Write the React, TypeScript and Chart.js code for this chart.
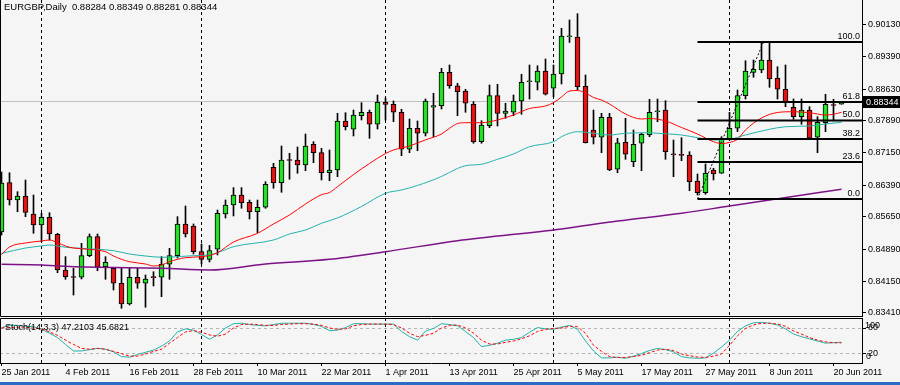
import React, { useEffect, useRef } from "react";
import { Chart, registerables } from "chart.js";

Chart.register(...registerables);

const FONT = "'Liberation Sans', Arial, sans-serif";

// ---------- data ----------
const dateLabels = [
  "25 Jan 2011", "4 Feb 2011", "16 Feb 2011", "28 Feb 2011", "10 Mar 2011", "22 Mar 2011", "1 Apr 2011",
  "13 Apr 2011", "25 Apr 2011", "5 May 2011", "17 May 2011", "27 May 2011", "8 Jun 2011", "20 Jun 2011",
];
const labelIdx = [0, 8, 16, 24, 32, 40, 48, 56, 64, 72, 80, 88, 96, 104];
const separatorIdx = [5, 25, 48, 69, 91];
const priceTicks = [0.8341, 0.8415, 0.8489, 0.8565, 0.8639, 0.8715, 0.8789, 0.8863, 0.8939, 0.9013];

const opens = [
  0.85299, 0.86450, 0.86046, 0.86140, 0.85720, 0.85463, 0.85643, 0.85246, 0.84413, 0.84250,
  0.84243, 0.84747, 0.85190, 0.84490, 0.84452, 0.84103, 0.83620, 0.84243, 0.84103, 0.84250,
  0.84243, 0.84546, 0.84747, 0.85487, 0.85440, 0.84840, 0.84662, 0.84896, 0.85720, 0.85929,
  0.86163, 0.85993, 0.85773, 0.85876, 0.86809, 0.86450, 0.86980, 0.86980, 0.86863, 0.87346,
  0.87150, 0.86683, 0.86746, 0.87890, 0.87696, 0.88013, 0.88093, 0.87813, 0.88326, 0.88280,
  0.88093, 0.87230, 0.87720, 0.87603, 0.88210, 0.88247, 0.89026, 0.88713, 0.88590, 0.88280,
  0.87406, 0.87780, 0.88480, 0.88069, 0.88093, 0.88356, 0.88806, 0.88793, 0.89056, 0.88653,
  0.88986, 0.89856, 0.89850, 0.88700, 0.87680, 0.87510, 0.87976, 0.86763, 0.87393, 0.86940,
  0.87370, 0.87563, 0.88106, 0.88146, 0.87113, 0.87096, 0.87096, 0.86490, 0.86216, 0.86746,
  0.86670, 0.87446, 0.87720, 0.88480, 0.89026, 0.89080, 0.89313, 0.88886, 0.88630, 0.88210,
  0.87990, 0.88146, 0.87510, 0.87850, 0.88263, 0.88284,
];
const highs = [
  0.86699, 0.86683, 0.86240, 0.86513, 0.86163, 0.85736, 0.85750, 0.85269, 0.84724, 0.84452,
  0.85036, 0.85253, 0.85253, 0.84724, 0.84476, 0.84452, 0.84452, 0.84452, 0.84296, 0.84373,
  0.84724, 0.84919, 0.85657, 0.85906, 0.85487, 0.85020, 0.84985, 0.85813, 0.86046, 0.86334,
  0.86334, 0.86046, 0.86046, 0.86473, 0.86902, 0.87306, 0.87136, 0.87283, 0.87586, 0.87406,
  0.87253, 0.87213, 0.88069, 0.88083, 0.88146, 0.88317, 0.88146, 0.88496, 0.88426, 0.88356,
  0.88163, 0.87936, 0.87890, 0.88403, 0.88536, 0.89119, 0.89196, 0.88770, 0.88630, 0.88340,
  0.87896, 0.88730, 0.88746, 0.88303, 0.88496, 0.88980, 0.89196, 0.89180, 0.89336, 0.89196,
  0.90053, 0.90247, 0.90393, 0.88963, 0.88146, 0.88069, 0.88069, 0.87486, 0.87953, 0.87680,
  0.87603, 0.88396, 0.88403, 0.88363, 0.87446, 0.87500, 0.87173, 0.86653, 0.86886, 0.86786,
  0.87523, 0.88093, 0.88613, 0.89296, 0.89313, 0.89703, 0.89716, 0.89156, 0.89196, 0.88403,
  0.88403, 0.88223, 0.87990, 0.88513, 0.88396, 0.88349,
];
const lows = [
  0.85229, 0.85929, 0.85773, 0.85657, 0.85269, 0.85073, 0.85113, 0.84350, 0.84196, 0.83829,
  0.84203, 0.84724, 0.84397, 0.84196, 0.83946, 0.83519, 0.83596, 0.83986, 0.83543, 0.84040,
  0.83790, 0.84196, 0.84693, 0.85183, 0.84786, 0.84553, 0.84600, 0.84763, 0.85626, 0.85673,
  0.85853, 0.85603, 0.85283, 0.85853, 0.86320, 0.86226, 0.86530, 0.86670, 0.86730, 0.86917,
  0.86513, 0.86496, 0.86590, 0.87680, 0.87540, 0.87913, 0.87486, 0.87703, 0.87913, 0.87873,
  0.87080, 0.87150, 0.87196, 0.87540, 0.87523, 0.88170, 0.88653, 0.88013, 0.88093, 0.87370,
  0.87370, 0.87733, 0.87773, 0.87953, 0.88013, 0.88046, 0.88403, 0.88613, 0.88496, 0.88456,
  0.88753, 0.89722, 0.88613, 0.87376, 0.87353, 0.87150, 0.86730, 0.86683, 0.86996, 0.86824,
  0.86730, 0.87523, 0.87873, 0.86996, 0.86590, 0.86963, 0.86263, 0.86163, 0.86180, 0.86513,
  0.86665, 0.87446, 0.87640, 0.88403, 0.88910, 0.89016, 0.88676, 0.88403, 0.88223, 0.87930,
  0.87813, 0.87463, 0.87150, 0.87640, 0.87890, 0.88281,
];
const closes = [
  0.86443, 0.86046, 0.86140, 0.85759, 0.85463, 0.85643, 0.85253, 0.84413, 0.84257, 0.84238,
  0.84747, 0.85190, 0.84476, 0.84592, 0.84103, 0.83620, 0.84243, 0.84103, 0.84203, 0.84234,
  0.84546, 0.84747, 0.85487, 0.85253, 0.84840, 0.84662, 0.84868, 0.85736, 0.85929, 0.86163,
  0.85983, 0.85773, 0.85876, 0.86413, 0.86450, 0.86980, 0.86968, 0.86863, 0.87306, 0.87150,
  0.86683, 0.86746, 0.87890, 0.87759, 0.88030, 0.88093, 0.87813, 0.88326, 0.88275, 0.88093,
  0.87230, 0.87720, 0.87603, 0.88356, 0.88247, 0.89026, 0.88713, 0.88573, 0.88303, 0.87406,
  0.87796, 0.88480, 0.88069, 0.88123, 0.88356, 0.88793, 0.88818, 0.89056, 0.88513, 0.88986,
  0.89873, 0.89868, 0.88690, 0.87383, 0.87510, 0.87976, 0.86746, 0.87383, 0.87113, 0.87346,
  0.87580, 0.88093, 0.88118, 0.87173, 0.87101, 0.87087, 0.86473, 0.86216, 0.86670, 0.86653,
  0.87463, 0.87720, 0.88480, 0.89056, 0.89096, 0.89313, 0.88870, 0.88630, 0.88340, 0.87990,
  0.88146, 0.87486, 0.87860, 0.88280, 0.88251, 0.88344,
];

const maRedIdx = [0, 1, 3, 5, 6, 7, 8, 9, 11, 13, 14, 15, 16, 18, 19, 20, 21, 22, 23, 25, 26, 27, 29, 32, 34, 36, 38, 40, 41, 42, 44, 46, 48, 49, 51, 53, 55, 56, 57, 58, 60, 62, 64, 66, 68, 69, 70, 71, 72, 73, 74, 75, 76, 78, 80, 81, 83, 85, 87, 89, 90, 91, 92, 93, 95, 97, 99, 101, 103, 104, 105];
const maRedVal = [
  0.84775, 0.84950, 0.85043, 0.85090, 0.85113, 0.85050, 0.84973, 0.84926, 0.84896, 0.84840,
  0.84740, 0.84662, 0.84606, 0.84553, 0.84506, 0.84530, 0.84606, 0.84662, 0.84700, 0.84723,
  0.84751, 0.84816, 0.85066, 0.85269, 0.85487, 0.85696, 0.85953, 0.86170, 0.86221, 0.86357,
  0.86640, 0.86898, 0.87130, 0.87213, 0.87306, 0.87450, 0.87586, 0.87720, 0.87831, 0.87850,
  0.87850, 0.87913, 0.88030, 0.88181, 0.88240, 0.88317, 0.88450, 0.88590, 0.88601, 0.88543,
  0.88438, 0.88380, 0.88286, 0.88053, 0.87936, 0.87948, 0.87890, 0.87738, 0.87586, 0.87406,
  0.87364, 0.87388, 0.87463, 0.87680, 0.87960, 0.88088, 0.88106, 0.88083, 0.88030, 0.88046,
  0.88093,
];
const maTealIdx = [0, 3, 5, 6, 7, 8, 10, 12, 14, 16, 18, 20, 22, 24, 26, 27, 29, 34, 36, 38, 40, 42, 45, 48, 50, 52, 55, 57, 58, 60, 62, 64, 66, 69, 70, 71, 72, 74, 76, 78, 81, 82, 85, 87, 89, 91, 93, 96, 98, 101, 103, 105];
const maTealVal = [
  0.84800, 0.84926, 0.84973, 0.84996, 0.84973, 0.84943, 0.84919, 0.84896, 0.84863, 0.84786,
  0.84740, 0.84710, 0.84723, 0.84747, 0.84763, 0.84816, 0.84956, 0.85113, 0.85253, 0.85346,
  0.85503, 0.85627, 0.85895, 0.86203, 0.86280, 0.86385, 0.86595, 0.86782, 0.86847, 0.86880,
  0.86996, 0.87120, 0.87290, 0.87406, 0.87523, 0.87603, 0.87640, 0.87603, 0.87563, 0.87603,
  0.87616, 0.87603, 0.87563, 0.87500, 0.87446, 0.87463, 0.87563, 0.87696, 0.87756, 0.87773,
  0.87820, 0.87860,
];
const maPurpleIdx = [0, 5, 7, 12, 20, 26, 33, 41, 48, 57, 70, 77, 85, 91, 96, 105];
const maPurpleVal = [
  0.84546, 0.84530, 0.84506, 0.84476, 0.84452, 0.84413, 0.84553, 0.84663, 0.84840, 0.85096,
  0.85370, 0.85556, 0.85736, 0.85906, 0.86046, 0.86296,
];

const stochK = [
  80, 87, 86, 84, 83, 77, 68, 58, 42, 27,
  27, 30, 33, 31, 25, 14, 12.5, 19, 24, 29,
  38, 50, 71, 78, 75, 65, 54, 64, 80, 90,
  91, 88, 86, 85, 88, 91, 91, 91, 91, 88,
  84, 74, 75, 81, 90, 90, 89, 89, 89, 89,
  72, 60, 52, 73, 79, 90, 88, 85, 72, 58,
  37, 40, 45, 52, 54, 58, 70, 81, 78, 77,
  82, 86, 77, 50, 27, 11, 11, 12.5, 10, 15,
  21, 28, 33, 30, 25, 14, 11, 10, 11, 22,
  36, 52, 72, 85, 92, 93, 91, 87, 78, 66,
  60, 55, 50, 45, 46, 47.2103,
];
const stochD = [
  80, 81, 82, 82, 80, 78, 71, 63, 52, 42,
  33, 31, 33, 31, 26, 21, 15, 15, 20, 26,
  31, 45, 58, 71, 74, 70, 64, 61, 66, 80,
  88, 89, 88, 86, 86, 88, 89, 90, 90, 89,
  86, 80, 77, 78, 85, 88, 89, 89, 89, 88,
  80, 68, 60, 63, 68, 80, 86, 87, 80, 68,
  52, 43, 43, 47, 50, 55, 62, 72, 77, 79,
  80, 84, 83, 68, 40, 26, 14, 12, 12, 14,
  17, 23, 29, 31, 28, 20, 16, 13, 12, 15,
  20, 40, 62, 79, 87, 91, 91, 89, 84, 73,
  66, 58, 52, 48, 46, 45.6821,
];

const fibLevels = [0, 23.6, 38.2, 50, 61.8, 100];
const fibLabels = ["0.0", "23.6", "38.2", "50.0", "61.8", "100.0"];
const fibFromIdx = 87;
const fibFromPrice = 0.8607;
const fibToIdx = 95.25;
const fibToPrice = 0.89733;

const titleText = "EURGBP,Daily  0.88284 0.88349 0.88281 0.88344";
const stochTitle = "Stoch(14,3,3) 47.2103 45.6821";
const lastPrice = 0.88344;

// ---------- layout constants ----------
const X_MIN = -0.1875;
const X_MAX = 107.5625;
const Y_MIN = 0.83316;
const Y_MAX = 0.90713;
const GREEN = "#22e022";
const RED = "#e01414";

const fibPrice = (l: number) => fibFromPrice + ((fibToPrice - fibFromPrice) * l) / 100;

const separatorsPlugin = {
  id: "separators",
  beforeDatasetsDraw(chart: any) {
    const { ctx, chartArea, scales } = chart;
    ctx.save();
    ctx.strokeStyle = "#000";
    ctx.lineWidth = 1;
    ctx.setLineDash([3, 3]);
    separatorIdx.forEach((i) => {
      const x = Math.round(scales.x.getPixelForValue(i) - 0.5) + 0.5;
      ctx.beginPath();
      ctx.moveTo(x, chartArea.top);
      ctx.lineTo(x, chartArea.bottom);
      ctx.stroke();
    });
    ctx.restore();
  },
};

const mainOverlay = {
  id: "mainOverlay",
  afterDraw(chart: any) {
    const { ctx, chartArea, scales } = chart;
    ctx.save();
    ctx.strokeStyle = "#000";
    ctx.lineWidth = 1;
    ctx.beginPath();
    ctx.moveTo(0.5, chartArea.top);
    ctx.lineTo(0.5, chartArea.bottom - 0.5);
    ctx.lineTo(chartArea.right, chartArea.bottom - 0.5);
    ctx.stroke();
    ctx.font = `9.5px ${FONT}`;
    ctx.fillStyle = "#000";
    ctx.textBaseline = "middle";
    ctx.textAlign = "left";
    ctx.fillText(titleText, 4, 7);
    ctx.font = `9px ${FONT}`;
    ctx.textAlign = "right";
    ctx.textBaseline = "alphabetic";
    fibLevels.forEach((l, k) => {
      const y = scales.y.getPixelForValue(fibPrice(l));
      ctx.fillText(fibLabels[k], chartArea.right - 2, y - 3);
    });
    const py = scales.y.getPixelForValue(lastPrice);
    ctx.fillStyle = "#000";
    ctx.fillRect(chartArea.right + 1, Math.round(py) - 6, 38, 12);
    ctx.fillStyle = "#fff";
    ctx.textAlign = "left";
    ctx.textBaseline = "middle";
    ctx.fillText(lastPrice.toFixed(5), chartArea.right + 4, Math.round(py) + 0.5);
    ctx.restore();
  },
};

const stochOverlay = {
  id: "stochOverlay",
  afterDraw(chart: any) {
    const { ctx, chartArea, scales } = chart;
    ctx.save();
    ctx.strokeStyle = "#000";
    ctx.lineWidth = 1;
    ctx.beginPath();
    ctx.moveTo(chartArea.right, chartArea.top + 0.5);
    ctx.lineTo(0.5, chartArea.top + 0.5);
    ctx.lineTo(0.5, chartArea.bottom);
    ctx.stroke();
    ctx.font = `9px ${FONT}`;
    ctx.fillStyle = "#000";
    ctx.textBaseline = "middle";
    ctx.textAlign = "left";
    ctx.fillText(stochTitle, 5, chartArea.top + 10);
    const y80 = scales.y.getPixelForValue(80);
    const y20 = scales.y.getPixelForValue(20);
    ctx.fillText("100", chartArea.right + 3, y80 - 2);
    ctx.fillText("0", chartArea.right + 4, y20 + 3);
    ctx.restore();
  },
};

function lineSet(idx: number[], val: number[], color: string, width: number, order: number) {
  return {
    type: "line" as const,
    data: idx.map((x, k) => ({ x, y: val[k] })),
    borderColor: color,
    borderWidth: width,
    pointRadius: 0,
    fill: false,
    cubicInterpolationMode: "monotone" as const,
    order,
  };
}

export default function App() {
  const mainRef = useRef<HTMLCanvasElement>(null);
  const stochRef = useRef<HTMLCanvasElement>(null);

  useEffect(() => {
    Chart.defaults.font.family = FONT;
    Chart.defaults.font.size = 9;
    Chart.defaults.color = "#000";

    const bodyColors = opens.map((o, i) => (closes[i] >= o ? GREEN : RED));

    const fibSets = fibLevels.map((l) => ({
      type: "line" as const,
      data: [
        { x: fibFromIdx, y: fibPrice(l) },
        { x: X_MAX, y: fibPrice(l) },
      ],
      borderColor: "#000",
      borderWidth: 2,
      pointRadius: 0,
      order: 40,
    }));

    const main = new Chart(mainRef.current as HTMLCanvasElement, {
      type: "bar",
      data: {
        datasets: [
          {
            type: "line",
            data: [
              { x: X_MIN, y: lastPrice },
              { x: X_MAX, y: lastPrice },
            ],
            borderColor: "#c0c0c0",
            borderWidth: 1,
            pointRadius: 0,
            order: 100,
          } as any,
          {
            type: "bar",
            data: opens.map((_, i) => ({ x: i, y: [lows[i], highs[i]] })),
            backgroundColor: "#000",
            borderWidth: 0,
            barThickness: 1,
            grouped: false,
            order: 90,
          } as any,
          {
            type: "bar",
            data: opens.map((o, i) => ({ x: i, y: [o, closes[i]] })),
            backgroundColor: bodyColors,
            borderColor: "#000",
            borderWidth: 1,
            borderSkipped: false,
            barThickness: 5,
            minBarLength: 1,
            grouped: false,
            order: 80,
          } as any,
          lineSet(maPurpleIdx, maPurpleVal, "#7d1287", 1.5, 70),
          lineSet(maTealIdx, maTealVal, "#20b2aa", 1, 60),
          lineSet(maRedIdx, maRedVal, "#ff0000", 1, 50),
          ...fibSets,
          {
            type: "line",
            data: [
              { x: fibFromIdx, y: fibFromPrice },
              { x: fibToIdx, y: fibToPrice },
            ],
            borderColor: "#000",
            borderWidth: 1,
            borderDash: [2, 2],
            pointRadius: 0,
            order: 30,
          } as any,
        ],
      },
      options: {
        responsive: false,
        animation: false,
        events: [],
        layout: { padding: 0 },
        plugins: { legend: { display: false }, tooltip: { enabled: false } },
        scales: {
          x: {
            type: "linear",
            min: X_MIN,
            max: X_MAX,
            offset: false,
            display: false,
            grid: { offset: false },
          },
          y: {
            type: "linear",
            position: "right",
            min: Y_MIN,
            max: Y_MAX,
            afterFit: (s: any) => {
              s.width = 38;
              s.paddingTop = 0;
              s.paddingBottom = 0;
            },
            afterBuildTicks: (s: any) => {
              s.ticks = priceTicks.map((v) => ({ value: v }));
            },
            ticks: {
              autoSkip: false,
              padding: 2,
              color: "#000",
              font: { family: FONT, size: 9 },
              callback: (v: any) => Number(v).toFixed(5),
            },
            grid: { drawOnChartArea: false, drawTicks: true, tickLength: 4, tickColor: "#000", color: "#000" },
            border: { display: true, color: "#000", width: 1 },
          },
        },
      } as any,
      plugins: [separatorsPlugin, mainOverlay],
    });

    const stoch = new Chart(stochRef.current as HTMLCanvasElement, {
      type: "line",
      data: {
        datasets: [
          {
            data: stochK.map((v, i) => ({ x: i, y: v })),
            borderColor: "#20b2aa",
            borderWidth: 1,
            pointRadius: 0,
            order: 2,
          },
          {
            data: stochD.map((v, i) => ({ x: i, y: v })),
            borderColor: "#ff0000",
            borderWidth: 1,
            borderDash: [3, 2],
            pointRadius: 0,
            order: 1,
          },
        ],
      },
      options: {
        responsive: false,
        animation: false,
        events: [],
        layout: { padding: { top: 1 } },
        plugins: { legend: { display: false }, tooltip: { enabled: false } },
        scales: {
          x: {
            type: "linear",
            position: "bottom",
            min: X_MIN,
            max: X_MAX,
            offset: false,
            afterBuildTicks: (s: any) => {
              s.ticks = labelIdx.map((v) => ({ value: v }));
            },
            afterFit: (s: any) => {
              s.height = 19;
              s.paddingLeft = 0;
              s.paddingRight = 0;
            },
            ticks: {
              autoSkip: false,
              maxRotation: 0,
              minRotation: 0,
              align: "start",
              padding: 1,
              color: "#000",
              font: { family: FONT, size: 9 },
              callback: (v: any) => {
                const k = labelIdx.indexOf(Number(v));
                return k >= 0 ? dateLabels[k] : "";
              },
            },
            grid: { drawOnChartArea: false, tickLength: 3, tickColor: "#000", color: "#000" },
            border: { display: true, color: "#000" },
          },
          y: {
            type: "linear",
            position: "right",
            min: -0.8,
            max: 103.1,
            afterBuildTicks: (s: any) => {
              s.ticks = [20, 80].map((v) => ({ value: v }));
            },
            afterFit: (s: any) => {
              s.width = 38;
              s.paddingTop = 0;
              s.paddingBottom = 0;
            },
            ticks: {
              autoSkip: false,
              padding: 2,
              color: "#000",
              font: { family: FONT, size: 9 },
              callback: (v: any) => String(v),
            },
            grid: {
              color: "#b4b4b4",
              drawOnChartArea: true,
              tickLength: 4,
              tickColor: "#000",
              tickBorderDash: [],
            },
            border: { display: true, color: "#000", dash: [3, 3] },
          },
        },
      } as any,
      plugins: [separatorsPlugin, stochOverlay],
    });

    return () => {
      main.destroy();
      stoch.destroy();
    };
  }, []);

  return (
    <div
      style={{
        position: "fixed",
        left: 0,
        top: 0,
        width: 900,
        height: 385,
        background: "#f5f5f5",
        overflow: "hidden",
      }}
    >
      <canvas
        ref={mainRef}
        width={900}
        height={317}
        style={{ position: "absolute", left: 0, top: 0, width: 900, height: 317 }}
      />
      <canvas
        ref={stochRef}
        width={900}
        height={65}
        style={{ position: "absolute", left: 0, top: 317, width: 900, height: 65 }}
      />
      <div style={{ position: "absolute", left: 0, top: 382, width: 900, height: 3, background: "#2d6bc7" }} />
    </div>
  );
}
